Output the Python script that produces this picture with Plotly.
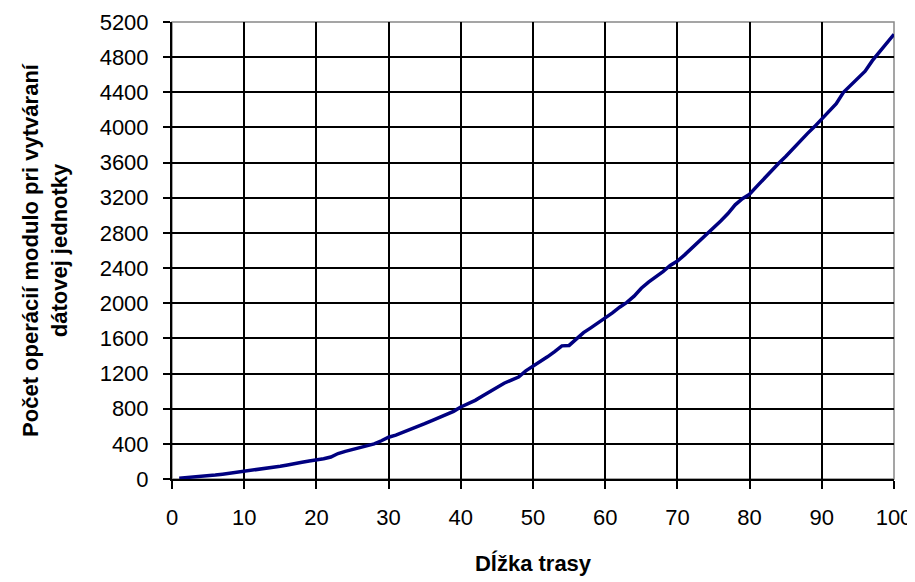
import plotly.graph_objects as go

trasa = list(range(1, 101))
operacie = [
    10, 15, 20, 30, 35, 45, 55, 65, 80, 90,
    100, 110, 120, 130, 145, 160, 170, 190, 205, 215,
    230, 250, 290, 315, 335, 355, 375, 400, 435, 475,
    500, 530, 565, 595, 630, 665, 700, 735, 770, 820,
    855, 895, 945, 995, 1040, 1090, 1125, 1160, 1230, 1280,
    1330, 1390, 1450, 1515, 1520, 1590, 1665, 1720, 1775, 1825,
    1890, 1955, 2010, 2080, 2170, 2240, 2295, 2360, 2430, 2480,
    2550, 2625, 2700, 2775, 2850, 2935, 3020, 3120, 3190, 3240,
    3330, 3420, 3510, 3590, 3670, 3760, 3850, 3930, 4010, 4095,
    4190, 4270, 4400, 4480, 4560, 4640, 4760, 4860, 4950, 5060,
]

x_ticks = list(range(0, 101, 10))
y_ticks = list(range(0, 5201, 400))

x_title = "Dĺžka trasy"
y_title = "Počet operácií modulo pri vytváraní<br>dátovej jednotky"

fig = go.Figure()
fig.add_trace(go.Scatter(
    x=trasa, y=operacie, mode="lines",
    line=dict(color="#000080", width=3.5),
    showlegend=False,
))

tick_font = dict(family="Liberation Sans, Arial, sans-serif", size=22, color="black")
title_font = dict(family="Liberation Sans, Arial, sans-serif", size=22, color="black")

fig.update_xaxes(
    range=[0, 100], tickvals=x_ticks, ticktext=[str(v) for v in x_ticks],
    showgrid=True, gridcolor="black", gridwidth=2,
    showline=True, linecolor="black", linewidth=2, mirror=False,
    ticks="outside", ticklen=8, tickwidth=2, tickcolor="black",
    tickfont=tick_font, zeroline=False, automargin=False,
    ticklabelstandoff=10,
    title=dict(text="<b>" + x_title + "</b>", font=title_font, standoff=26),
)
fig.update_yaxes(
    range=[0, 5200], tickvals=y_ticks, ticktext=[str(v) for v in y_ticks],
    showgrid=True, gridcolor="black", gridwidth=2,
    showline=True, linecolor="black", linewidth=2,
    ticks="outside", ticklen=7, tickwidth=2, tickcolor="black",
    tickfont=tick_font, zeroline=False, automargin=False,
    ticklabelstandoff=10,
    title=dict(text="<b>" + y_title + "</b>", font=title_font, standoff=26),
)

# the page body adds an 8 px margin, so the figure is sized to fit the window
fig.update_layout(
    width=907, height=574,
    margin=dict(l=164, r=21, t=14, b=103),
    paper_bgcolor="white", plot_bgcolor="white",
    shapes=[dict(type="rect", xref="paper", yref="paper", x0=0, y0=0, x1=1, y1=1,
                 line=dict(color="#888888", width=1.5), layer="below")],
)

fig.write_html("out.html")
